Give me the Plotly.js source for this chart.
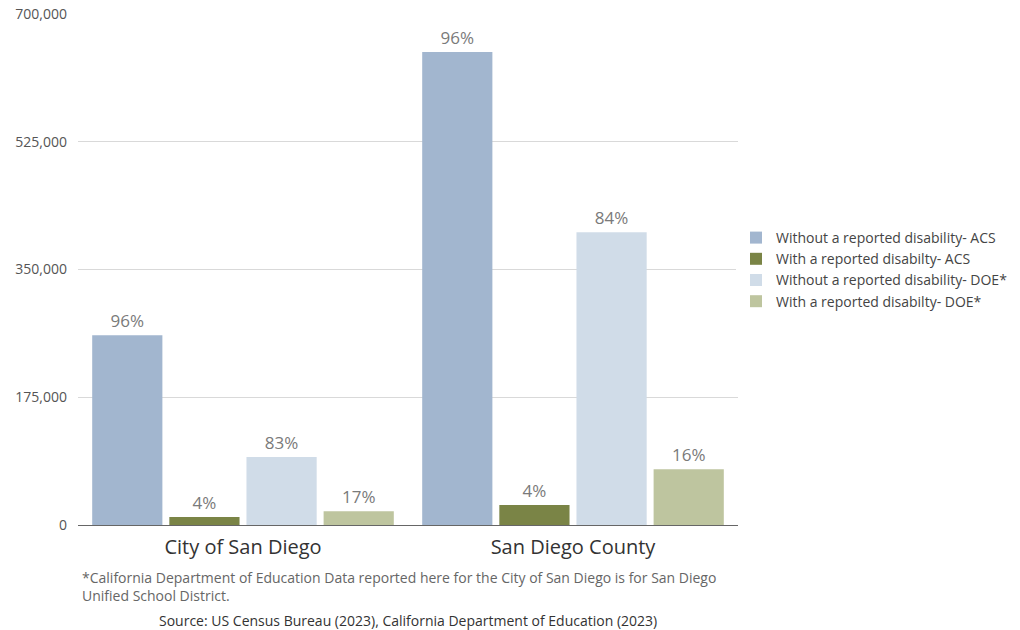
<!DOCTYPE html>
<html>
<head>
<meta charset="utf-8">
<script src="https://cdn.plot.ly/plotly-3.0.1.min.js"></script>
<style>html,body{margin:0;padding:0;background:#fff;}#chart{width:1020px;height:630px;}</style>
</head>
<body>
<div id="chart"></div>
<script>
const categories = ["City of San Diego", "San Diego County"];
const seriesNames = [
  "Without a reported disability- ACS",
  "With a reported disabilty- ACS",
  "Without a reported disability- DOE*",
  "With a reported disabilty- DOE*"
];
const withoutACS = [260000, 648000];
const withACS = [11000, 27500];
const withoutDOE = [93000, 401000];
const withDOE = [19000, 76500];
const pctWithoutACS = ["96%", "96%"];
const pctWithACS = ["4%", "4%"];
const pctWithoutDOE = ["83%", "84%"];
const pctWithDOE = ["17%", "16%"];
const tickVals = [0, 175000, 350000, 525000, 700000];
const tickText = ["0", "175,000", "350,000", "525,000", "700,000"];

const colors = ["#a2b6cf", "#7a8446", "#d0dce8", "#bec59f"];
const values = [withoutACS, withACS, withoutDOE, withDOE];
const labels = [pctWithoutACS, pctWithACS, pctWithoutDOE, pctWithDOE];
const font = "'Open Sans', sans-serif";

const traces = values.map((v, i) => ({
  type: "bar",
  name: seriesNames[i],
  x: categories,
  y: v,
  text: labels[i],
  textposition: "outside",
  cliponaxis: false,
  textfont: {family: font, size: 17, color: "#7a7a7a"},
  marker: {color: colors[i]},
  hoverinfo: "none"
}));

const layout = {
  width: 1020, height: 630,
  margin: {l: 78, r: 282, t: 14, b: 105, autoexpand: false},
  paper_bgcolor: "#fff", plot_bgcolor: "#fff",
  barmode: "group",
  bargap: 0.065,
  bargroupgap: 0.09,
  font: {family: font, color: "#555"},
  xaxis: {
    showline: true, linecolor: "#666", linewidth: 1,
    ticks: "", tickfont: {family: font, size: 20, color: "#333"},
    showgrid: false, ticklabelstandoff: 4
  },
  yaxis: {
    range: [0, 700000],
    tickvals: tickVals, ticktext: tickText,
    showgrid: true, gridcolor: "#d9d9d9", gridwidth: 1,
    zeroline: false, showline: false,
    tickfont: {family: font, size: 14, color: "#555"},
    ticks: "", ticklabelstandoff: 10
  },
  legend: {
    x: 0.997, xanchor: "left", y: 0.5, yanchor: "middle",
    font: {family: font, size: 14, color: "#444"},
    traceorder: "normal",
    itemwidth: 30, tracegroupgap: 0
  },
  annotations: [
    {xref: "paper", yref: "paper", x: 0.003, y: -0.08, xanchor: "left", yanchor: "top", align: "left",
     showarrow: false,
     text: "*California Department of Education Data reported here for the City of San Diego is for San Diego<br>Unified School District.",
     font: {family: font, size: 14, color: "#666"}},
    {xref: "paper", yref: "paper", x: 0.5, y: -0.186, xanchor: "center", yanchor: "middle",
     showarrow: false,
     text: "Source: US Census Bureau (2023), California Department of Education (2023)",
     font: {family: font, size: 14, color: "#333"}}
  ]
};

Plotly.newPlot("chart", traces, layout, {displayModeBar: false, staticPlot: true});
</script>
</body>
</html>
